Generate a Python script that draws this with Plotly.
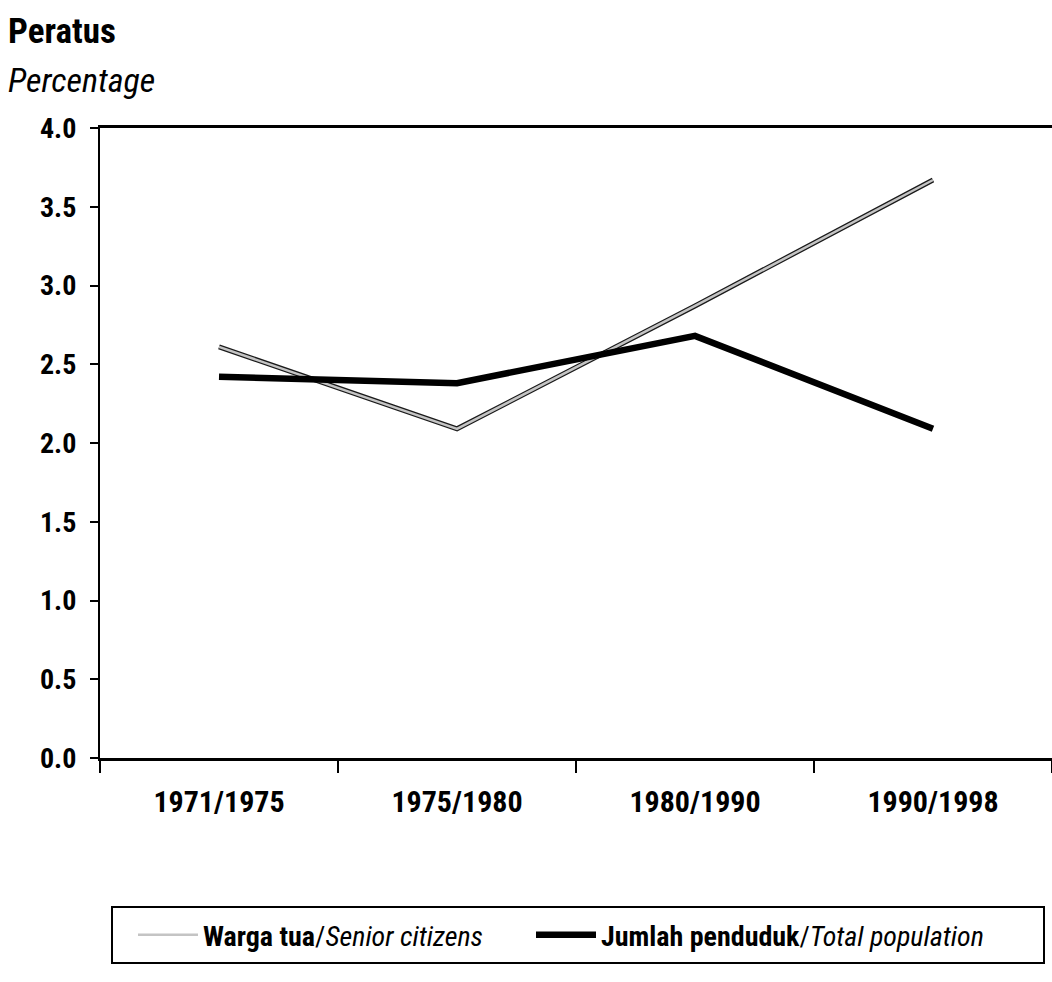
import plotly.graph_objects as go

periods = ["1971/1975", "1975/1980", "1980/1990", "1990/1998"]
senior = [2.61, 2.09, 2.87, 3.67]
total = [2.42, 2.38, 2.68, 2.09]
y_ticks = [0.0, 0.5, 1.0, 1.5, 2.0, 2.5, 3.0, 3.5, 4.0]

FONT = "Roboto Condensed, Liberation Sans Narrow, Arial Narrow, sans-serif"

fig = go.Figure()
fig.add_trace(go.Scatter(x=periods, y=senior, mode="lines",
                         line=dict(color="#1a1a1a", width=5),
                         showlegend=False, hoverinfo="skip"))
fig.add_trace(go.Scatter(x=periods, y=senior, mode="lines",
                         line=dict(color="#c4c4c4", width=2.5),
                         name="<b>Warga tua</b>/<i>Senior citizens</i>",
                         legend="legend"))
fig.add_trace(go.Scatter(x=periods, y=total, mode="lines",
                         line=dict(color="#000000", width=6.5),
                         name="<b>Jumlah penduduk</b>/<i>Total population</i>",
                         legend="legend2"))

leg_common = dict(orientation="h", xref="container", yref="container",
                  xanchor="left", yanchor="middle",
                  font=dict(family=FONT, size=28, color="black"),
                  itemwidth=60, bgcolor="rgba(0,0,0,0)")

fig.update_layout(
    width=1052, height=982,
    margin=dict(l=100, r=0, t=128, b=224),
    plot_bgcolor="white", paper_bgcolor="white",
    font=dict(family=FONT, color="black"),
    showlegend=True,
    legend=dict(leg_common, x=133/1052, y=1 - 935/982, entrywidth=300),
    legend2=dict(leg_common, x=531/1052, y=1 - 935/982, entrywidth=440),
    annotations=[
        dict(text="<b>Peratus</b>", xref="paper", yref="paper", x=-94/952,
             y=1 + (128 - 31)/630,
             xanchor="left", yanchor="middle", showarrow=False,
             font=dict(family=FONT, size=35, color="black")),
        dict(text="<i>Percentage</i>", xref="paper", yref="paper", x=-94/952,
             y=1 + (128 - 80)/630,
             xanchor="left", yanchor="middle", showarrow=False,
             font=dict(family=FONT, size=34, color="black")),
    ],
    shapes=[
        dict(type="rect", xref="paper", yref="paper",
             x0=12/952, x1=944/952, y0=-(963-758)/630, y1=-(907-758)/630,
             line=dict(color="black", width=2), fillcolor="rgba(0,0,0,0)"),
    ],
)

fig.update_xaxes(type="category", showline=True, linecolor="black", linewidth=3,
                 mirror=True, ticks="outside", tickson="boundaries", ticklen=12,
                 tickwidth=2, tickcolor="black", showgrid=False, zeroline=False,
                 tickfont=dict(family=FONT, size=30, color="black", weight="bold"),
                 ticklabelstandoff=15, range=[-0.5, 3.5], automargin=False)
fig.update_yaxes(range=[0, 4], tickvals=y_ticks, tickformat=".1f",
                 showline=True, linecolor="black", linewidth=2,
                 ticks="outside", ticklen=8, tickwidth=2, tickcolor="black",
                 showgrid=False, zeroline=False, automargin=False,
                 tickfont=dict(family=FONT, size=28, color="black", weight="bold"),
                 ticklabelstandoff=8)

fig.write_html("out.html", config={"displayModeBar": False},
               post_script="document.body.style.margin='0';document.body.style.overflow='hidden';")
